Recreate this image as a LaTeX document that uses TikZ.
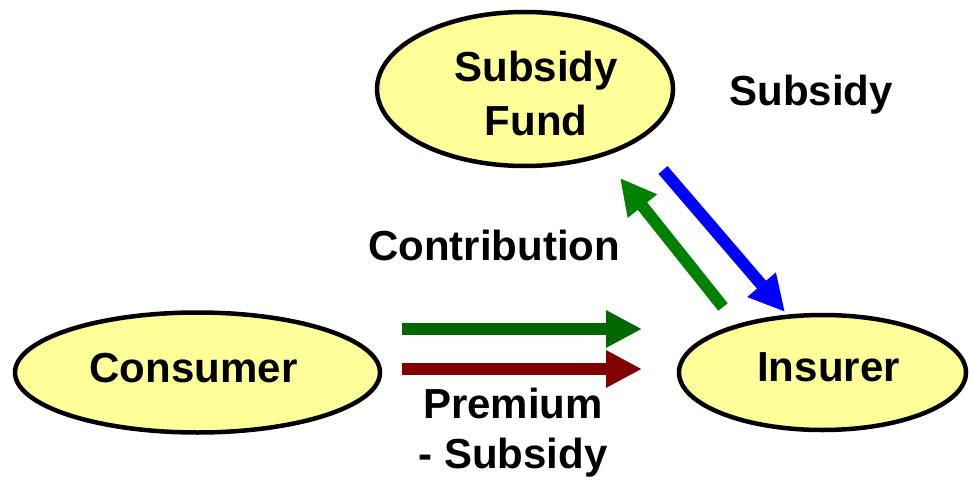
\documentclass[tikz,border=0pt]{standalone}
\usepackage{fontspec}
\setmainfont{Liberation Sans}
\usetikzlibrary{shapes.geometric,arrows.meta}
\definecolor{fillyel}{RGB}{255,255,153}
\definecolor{dgreen}{RGB}{0,102,0}
\definecolor{mgreen}{RGB}{0,128,0}
\definecolor{dred}{RGB}{128,0,0}
\definecolor{bblue}{RGB}{0,0,255}
\tikzset{
  ell/.style={ellipse, draw=black, line width=4.5pt, fill=fillyel, inner sep=0pt,
    font=\fontsize{42}{54}\selectfont\bfseries},
  lbl/.style={font=\fontsize{42}{50}\selectfont\bfseries, align=center, inner sep=0pt},
  fat/.style={line width=12pt, -{Triangle[length=36pt,width=35pt]}}
}
\begin{document}
\begin{tikzpicture}[x=1pt,y=1pt]
\useasboundingbox (0,0) rectangle (971,480);
\node[ell, align=center, text height=93pt, minimum width=296pt, minimum height=154pt] (fund) at (525,391) {\hspace*{22pt}Subsidy\\\hspace*{22pt}Fund};
\node[ell, text depth=10pt, minimum width=365pt, minimum height=120pt] (cons) at (197.5,107.5) {Consumer\kern8pt};
\node[ell, text depth=10pt, minimum width=287pt, minimum height=115pt] (ins) at (822.5,107.5) {\kern12pt Insurer};
\node[lbl] (lsub) at (811,385) {Subsidy};
\node[lbl] (lcon) at (494,235) {Contribution};
\node[lbl] (lprem) at (513,47) {Premium\\- Subsidy};
\coordinate (g1s) at (402,151);
\coordinate (g1e) at (642,151);
\coordinate (r1s) at (402,111);
\coordinate (r1e) at (642,111);
\coordinate (g2s) at (723,173);
\coordinate (g2e) at (620,302);
\coordinate (b1s) at (663,310);
\coordinate (b1e) at (785,168);
\draw[fat, draw=dgreen, fill=dgreen] (g1s) -- (g1e);
\draw[fat, draw=dred, fill=dred] (r1s) -- (r1e);
\draw[fat, draw=mgreen, fill=mgreen] (g2s) -- (g2e);
\draw[fat, draw=bblue, fill=bblue] (b1s) -- (b1e);
\end{tikzpicture}
\end{document}
